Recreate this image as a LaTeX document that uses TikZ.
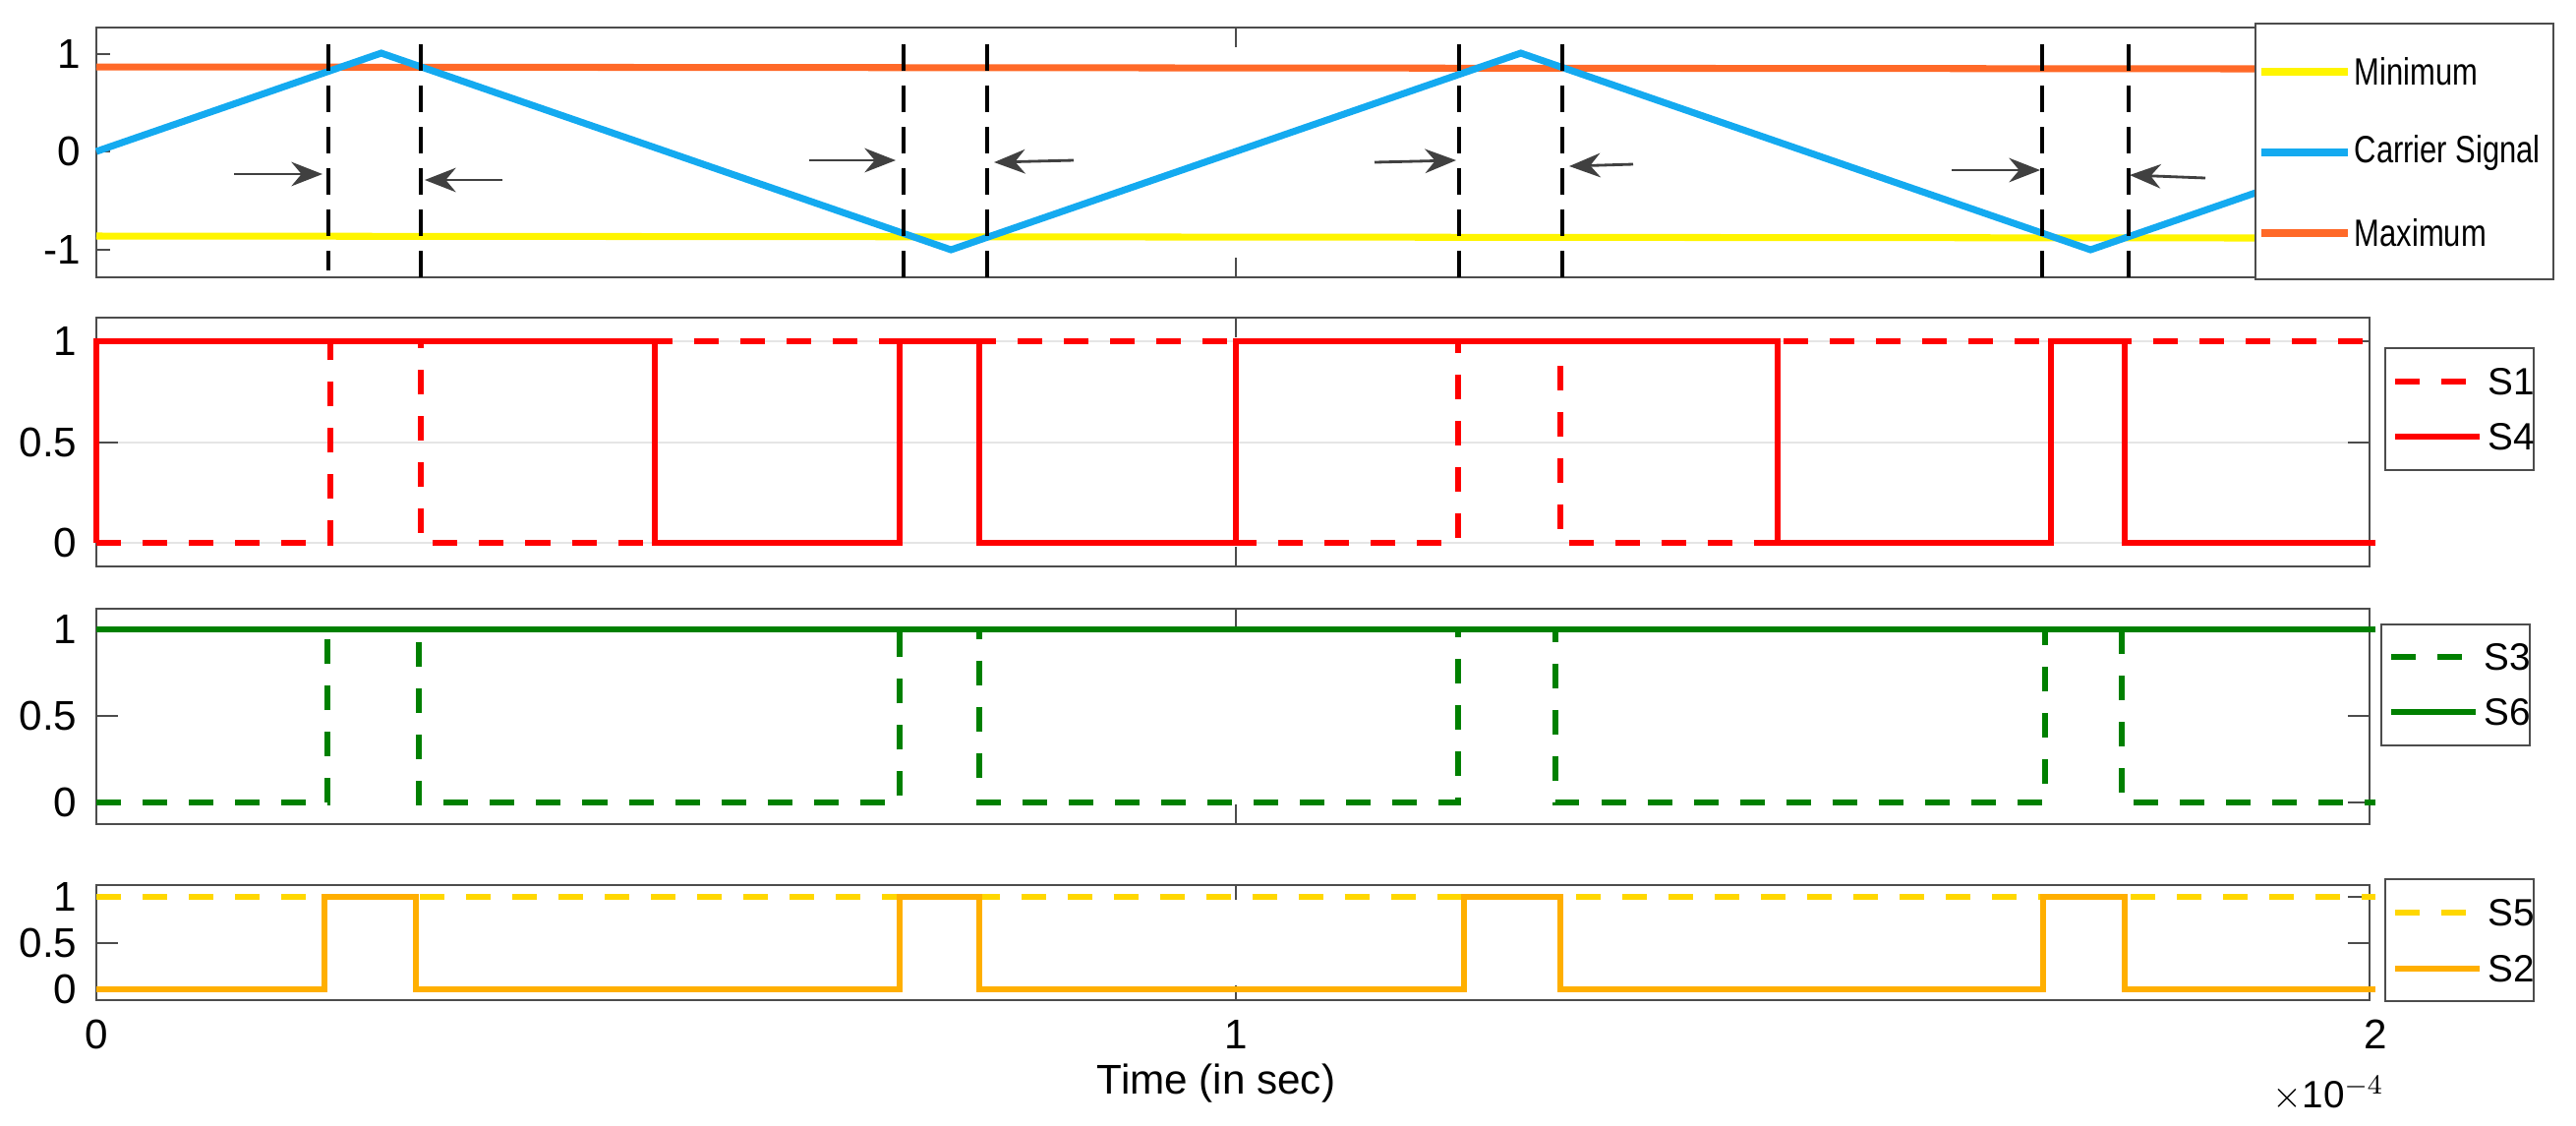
\documentclass[tikz,border=0pt]{standalone}
\usepackage{fontspec}
\setmainfont{Liberation Sans}
\usetikzlibrary{arrows.meta}
\definecolor{carrier}{RGB}{20,170,240}
\definecolor{maxi}{RGB}{255,105,40}
\definecolor{mini}{RGB}{255,245,0}
\definecolor{sgreen}{RGB}{0,128,0}
\definecolor{sgold}{RGB}{255,215,0}
\definecolor{sorange}{RGB}{255,175,0}
\begin{document}
\begin{tikzpicture}[x=0.01cm, y=-0.01cm,
    frame/.style={draw=black!70, line width=0.8pt},
    tick/.style={draw=black!70, line width=0.6pt},
    grid/.style={draw=black!10, line width=0.5pt},
    ticklabel/.style={font=\fontsize{12}{12}\selectfont, anchor=east, inner sep=2pt},
    legtext/.style={font=\fontsize{11}{11}\selectfont, anchor=west, inner sep=0pt},
    marker/.style={black, line width=1pt, dash pattern=on 0.27cm off 0.15cm},
    pointer/.style={-{Stealth[length=9pt,width=7pt]}, black!75, line width=0.8pt},
    sig/.style={line width=1.7pt, line join=miter},
    dashsig/.style={sig, dash pattern=on 0.25cm off 0.22cm}
]
\useasboundingbox (0,0) rectangle (2620,1144);

% Top panel: carrier and limits
\draw[frame] (98,28) rectangle (2294,282);
\foreach \v/\y in {1/55, 0/154, -1/254} {
  \draw[tick] (98,\y) -- ++(14,0);
  \node[ticklabel] (ty\v) at (90,\y) {\v};
}
\draw[tick] (1257,28) -- ++(0,20) (1257,282) -- ++(0,-20);
\begin{scope}[shift={(98,154)}, xscale=1159, yscale=-100]
  \draw[mini, line width=2pt] (0,-0.86) -- (1.895,-0.88);
  \draw[maxi, line width=2pt] (0,0.86) -- (1.895,0.84);
  \draw[carrier, line width=2pt] (0,0) -- (0.25,1) -- (0.75,-1) -- (1.25,1) -- (1.75,-1) -- (1.895,-0.42);
\end{scope}
\foreach \x/\b in {334/275, 428/288, 919/290, 1004/290, 1484/288, 1589/290, 2077/290, 2165/290}
  \draw[marker] (\x,45) -- (\x,\b);

% Pointers
\coordinate (pa1) at (238,177); \coordinate (pa2) at (328,177);
\coordinate (pb1) at (511,183); \coordinate (pb2) at (432,183);
\coordinate (pc1) at (823,163); \coordinate (pc2) at (911,163);
\coordinate (pd1) at (1092,163); \coordinate (pd2) at (1011,165);
\coordinate (pe1) at (1398,165); \coordinate (pe2) at (1481,163);
\coordinate (pf1) at (1661,167); \coordinate (pf2) at (1596,169);
\coordinate (pg1) at (1985,173); \coordinate (pg2) at (2075,173);
\coordinate (ph1) at (2243,181); \coordinate (ph2) at (2166,178);
\foreach \p in {a,b,c,d,e,f,g,h}
  \draw[pointer] (p\p1) -- (p\p2);

% Top legend
\draw[frame, fill=white] (2294,24) rectangle (2597,284);
\foreach \n/\c/\t/\y in {mn/mini/Minimum/73, cs/carrier/Carrier Signal/155, mx/maxi/Maximum/237} {
  \draw[\c, line width=2.4pt] (2300,\y) -- (2388,\y);
  \node[legtext] (leg\n) at (2394,\y) {\scalebox{0.8}[1]{\t}};
}

% Panel 2: S1 / S4
\draw[grid] (98,347) -- (2410,347) (98,450) -- (2410,450) (98,552) -- (2410,552);
\draw[frame] (98,323) rectangle (2410,576);
\foreach \v/\y in {1/347, 0.5/450, 0/552} {
  \draw[tick] (98,\y) -- ++(22,0) (2410,\y) -- ++(-22,0);
  \node[ticklabel] at (86,\y) {\v};
}
\draw[tick] (1257,323) -- ++(0,20) (1257,576) -- ++(0,-20);
\begin{scope}[shift={(98,552)}, xscale=1159, yscale=-205]
  \draw[sig, red] (0,0) -- (0,1) -| (0.49,0) -| (0.705,1) -| (0.775,0) -| (1,1) -| (1.475,0) -| (1.715,1) -| (1.78,0) -- (2,0);
  \draw[dashsig, red] (0,0) -| (0.205,1) -| (0.285,0) -| (0.49,1) -| (1,0) -| (1.195,1) -| (1.285,0) -| (1.475,1) -- (2,1);
\end{scope}
\draw[frame, fill=white] (2426,354) rectangle (2577,478);
\draw[dashsig, red] (2436,388) -- (2522,388);
\node[legtext] (legs1) at (2530,388) {S1};
\draw[sig, red] (2436,444) -- (2522,444);
\node[legtext] (legs4) at (2530,444) {S4};

% Panel 3: S3 / S6
\draw[frame] (98,619) rectangle (2410,838);
\foreach \v/\y in {1/640, 0.5/728, 0/816} {
  \draw[tick] (98,\y) -- ++(22,0) (2410,\y) -- ++(-22,0);
  \node[ticklabel] at (86,\y) {\v};
}
\draw[tick] (1257,619) -- ++(0,20) (1257,838) -- ++(0,-20);
\begin{scope}[shift={(98,816)}, xscale=1159, yscale=-176]
  \draw[sig, sgreen] (0,1) -- (2,1);
  \draw[dashsig, sgreen] (0,0) -| (0.203,1) -| (0.283,0) -| (0.705,1) -| (0.775,0) -| (1.195,1) -| (1.28,0) -| (1.71,1) -| (1.777,0) -- (2,0);
\end{scope}
\draw[frame, fill=white] (2422,635) rectangle (2573,758);
\draw[dashsig, sgreen] (2432,668) -- (2518,668);
\node[legtext] (legs3) at (2526,668) {S3};
\draw[sig, sgreen] (2432,724) -- (2518,724);
\node[legtext] (legs6) at (2526,724) {S6};

% Panel 4: S5 / S2
\draw[frame] (98,900) rectangle (2410,1017);
\foreach \v/\y in {1/912, 0.5/959, 0/1006} {
  \draw[tick] (98,\y) -- ++(22,0) (2410,\y) -- ++(-22,0);
  \node[ticklabel] at (86,\y) {\v};
}
\draw[tick] (1257,900) -- ++(0,15) (1257,1017) -- ++(0,-15);
\begin{scope}[shift={(98,1006)}, xscale=1159, yscale=-94]
  \draw[dashsig, sgold] (0,1) -- (2,1);
  \draw[sig, sorange] (0,0) -| (0.2,1) -| (0.28,0) -| (0.705,1) -| (0.775,0) -| (1.2,1) -| (1.285,0) -| (1.708,1) -| (1.78,0) -- (2,0);
\end{scope}
\draw[frame, fill=white] (2426,894) rectangle (2577,1018);
\draw[dashsig, sgold] (2436,928) -- (2522,928);
\node[legtext] (legs5) at (2530,928) {S5};
\draw[sig, sorange] (2436,985) -- (2522,985);
\node[legtext] (legs2) at (2530,985) {S2};

% Time axis
\foreach \v/\x in {0/98, 1/1257, 2/2416}
  \node[font=\fontsize{12}{12}\selectfont] (tx\v) at (\x,1052) {\v};
\node[font=\fontsize{12}{12}\selectfont] (xlabel) at (1237,1102) {Time (in sec)};
\node[font=\fontsize{11}{11}\selectfont] (xscale) at (2368,1112) {$\times$10$^{-4}$};

\end{tikzpicture}
\end{document}
